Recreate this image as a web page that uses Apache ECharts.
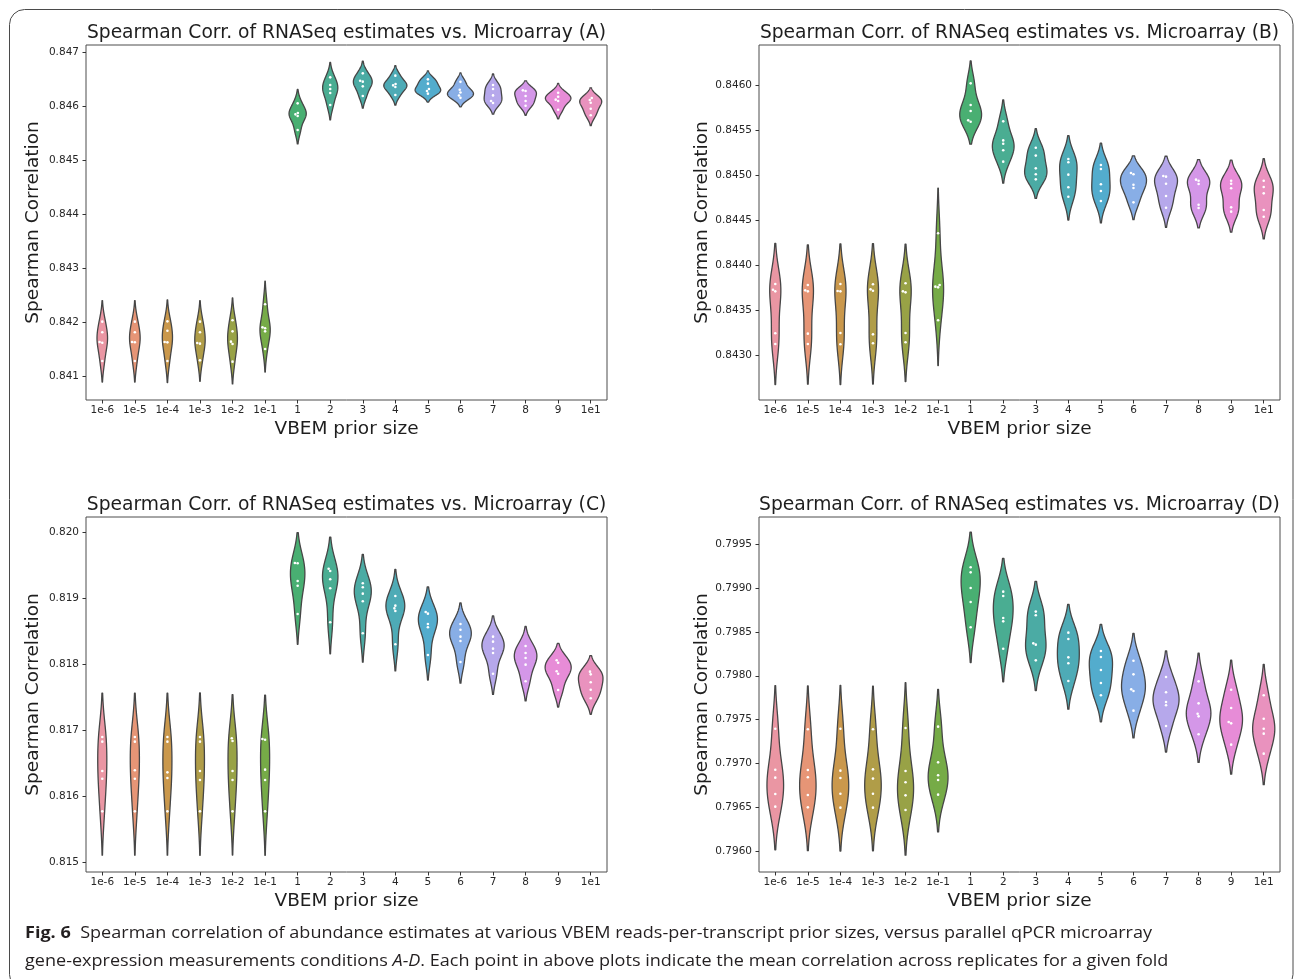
<!DOCTYPE html>
<html>
<head>
<meta charset="utf-8">
<script src="https://cdn.jsdelivr.net/npm/echarts@6/dist/echarts.min.js"></script>
<style>
  html, body { margin: 0; padding: 0; background: #ffffff; }
  #chart { width: 1295px; height: 979px; }
</style>
</head>
<body>
<div id="chart"></div>
<script>
// VBEM prior sizes on the x axis
const CATEGORIES = ['1e-6', '1e-5', '1e-4', '1e-3', '1e-2', '1e-1', '1', '2', '3', '4', '5', '6', '7', '8', '9', '1e1'];

// Spearman correlation per fold (five replicates per prior size), conditions A-D
const CORR_A = [
  [0.842018, 0.841821, 0.841642, 0.841629, 0.841290],
  [0.842018, 0.841821, 0.841642, 0.841636, 0.841290],
  [0.842024, 0.841851, 0.841642, 0.841635, 0.841290],
  [0.842018, 0.841821, 0.841623, 0.841611, 0.841302],
  [0.842043, 0.841839, 0.841648, 0.841605, 0.841278],
  [0.842339, 0.841913, 0.841895, 0.841839, 0.841512],
  [0.846059, 0.845880, 0.845855, 0.845824, 0.845565],
  [0.846540, 0.846398, 0.846324, 0.846250, 0.846028],
  [0.846614, 0.846478, 0.846460, 0.846373, 0.846194],
  [0.846571, 0.846416, 0.846392, 0.846361, 0.846213],
  [0.846503, 0.846423, 0.846324, 0.846287, 0.846238],
  [0.846457, 0.846309, 0.846259, 0.846204, 0.846160],
  [0.846398, 0.846324, 0.846206, 0.846101, 0.846064],
  [0.846299, 0.846287, 0.846194, 0.846102, 0.846015],
  [0.846256, 0.846182, 0.846127, 0.846102, 0.845941],
  [0.846157, 0.846120, 0.846071, 0.845960, 0.845837]
];
const CORR_B = [
  [0.843794, 0.843731, 0.843713, 0.843248, 0.843129],
  [0.843783, 0.843724, 0.843713, 0.843244, 0.843129],
  [0.843794, 0.843717, 0.843713, 0.843251, 0.843126],
  [0.843791, 0.843735, 0.843720, 0.843236, 0.843137],
  [0.843802, 0.843713, 0.843702, 0.843251, 0.843148],
  [0.844356, 0.843783, 0.843765, 0.843757, 0.843392],
  [0.846018, 0.845778, 0.845712, 0.845608, 0.845593],
  [0.845597, 0.845386, 0.845349, 0.845276, 0.845150],
  [0.845305, 0.845217, 0.845076, 0.845010, 0.844954],
  [0.845180, 0.845143, 0.845006, 0.844866, 0.844762],
  [0.845113, 0.845069, 0.844899, 0.844825, 0.844714],
  [0.845024, 0.845010, 0.844895, 0.844858, 0.844699],
  [0.844991, 0.844984, 0.844906, 0.844770, 0.844640],
  [0.844951, 0.844939, 0.844903, 0.844673, 0.844637],
  [0.844939, 0.844906, 0.844855, 0.844644, 0.844596],
  [0.844939, 0.844869, 0.844799, 0.844614, 0.844540]
];
const CORR_C = [
  [0.816898, 0.816827, 0.816382, 0.816265, 0.815769],
  [0.816898, 0.816827, 0.816392, 0.816265, 0.815769],
  [0.816898, 0.816827, 0.816361, 0.816275, 0.815769],
  [0.816898, 0.816827, 0.816382, 0.816245, 0.815769],
  [0.816878, 0.816837, 0.816382, 0.816245, 0.815769],
  [0.816867, 0.816857, 0.816402, 0.816245, 0.815769],
  [0.819540, 0.819535, 0.819266, 0.819195, 0.818765],
  [0.819453, 0.819418, 0.819292, 0.819155, 0.818639],
  [0.819231, 0.819170, 0.819074, 0.818958, 0.818472],
  [0.819039, 0.818892, 0.818851, 0.818811, 0.818305],
  [0.818796, 0.818770, 0.818613, 0.818563, 0.818143],
  [0.818613, 0.818527, 0.818421, 0.818355, 0.818036],
  [0.818421, 0.818345, 0.818239, 0.818173, 0.817859],
  [0.818279, 0.818173, 0.818097, 0.817996, 0.817743],
  [0.818062, 0.818026, 0.817895, 0.817859, 0.817611],
  [0.817890, 0.817849, 0.817728, 0.817616, 0.817485]
];
const CORR_D = [
  [0.797396, 0.796928, 0.796837, 0.796651, 0.796506],
  [0.797389, 0.796925, 0.796841, 0.796639, 0.796498],
  [0.797396, 0.796917, 0.796833, 0.796654, 0.796495],
  [0.797389, 0.796932, 0.796826, 0.796654, 0.796495],
  [0.797404, 0.796913, 0.796784, 0.796635, 0.796468],
  [0.797419, 0.797012, 0.796864, 0.796810, 0.796643],
  [0.799238, 0.799180, 0.799002, 0.798842, 0.798553],
  [0.798960, 0.798910, 0.798659, 0.798621, 0.798309],
  [0.798732, 0.798690, 0.798370, 0.798355, 0.798176],
  [0.798492, 0.798420, 0.798210, 0.798142, 0.797940],
  [0.798283, 0.798214, 0.798066, 0.797917, 0.797777],
  [0.798172, 0.798016, 0.797845, 0.797826, 0.797602],
  [0.797986, 0.797811, 0.797701, 0.797663, 0.797427],
  [0.797936, 0.797685, 0.797567, 0.797537, 0.797332],
  [0.797841, 0.797632, 0.797472, 0.797457, 0.797214],
  [0.797777, 0.797510, 0.797396, 0.797339, 0.797111]
];

// y tick positions for each panel
const TICKS_A = [0.841, 0.842, 0.843, 0.844, 0.845, 0.846, 0.847];
const TICKS_B = [0.8430, 0.8435, 0.8440, 0.8445, 0.8450, 0.8455, 0.8460];
const TICKS_C = [0.815, 0.816, 0.817, 0.818, 0.819, 0.820];
const TICKS_D = [0.7960, 0.7965, 0.7970, 0.7975, 0.7980, 0.7985, 0.7990, 0.7995];

const TITLE_PREFIX = 'Spearman Corr. of RNASeq estimates vs. Microarray';
const X_NAME = 'VBEM prior size';
const Y_NAME = 'Spearman Correlation';
const CAPTION_1_BOLD = 'Fig. 6';
const CAPTION_1 = '  Spearman correlation of abundance estimates at various VBEM reads-per-transcript prior sizes, versus parallel qPCR microarray';
const CAPTION_2_A = 'gene-expression measurements conditions ';
const CAPTION_2_I = 'A-D';
const CAPTION_2_B = '. Each point in above plots indicate the mean correlation across replicates for a given fold';

const FONT = '"DejaVu Sans", "Liberation Sans", sans-serif';
const TEXT_COLOR = '#1e1e1e';

// ---- HUSL colour space (seaborn-style palette) ----
const HM = [
  [3.240969941904521, -1.537383177570093, -0.498610760293],
  [-0.96924363628087, 1.87596750150772, 0.041555057407175],
  [0.055630079696993, -0.20397695888897, 1.056971514242878]
];
const REF_U = 0.19783000664283, REF_V = 0.46831999493879;
const KAPPA = 903.2962962, EPSILON = 0.0088564516;

function lightnessBounds(L) {
  const out = [];
  const sub1 = Math.pow(L + 16, 3) / 1560896;
  const sub2 = sub1 > EPSILON ? sub1 : L / KAPPA;
  for (const [m1, m2, m3] of HM) {
    for (const t of [0, 1]) {
      const top1 = (284517 * m1 - 94839 * m3) * sub2;
      const top2 = (838422 * m3 + 769860 * m2 + 731718 * m1) * L * sub2 - 769860 * t * L;
      const bottom = (632260 * m3 - 126452 * m2) * sub2 + 126452 * t;
      out.push([top1 / bottom, top2 / bottom]);
    }
  }
  return out;
}
function maxChroma(L, H) {
  const hr = H / 360 * Math.PI * 2;
  let best = Infinity;
  for (const [slope, icpt] of lightnessBounds(L)) {
    const len = icpt / (Math.sin(hr) - slope * Math.cos(hr));
    if (len >= 0) best = Math.min(best, len);
  }
  return best;
}
function huslToRgb(H, S, L) {
  const C = maxChroma(L, H) / 100 * S;
  const hr = H / 360 * Math.PI * 2;
  const U = C * Math.cos(hr), V = C * Math.sin(hr);
  const Y = L <= 8 ? L / KAPPA : Math.pow((L + 16) / 116, 3);
  const vu = U / (13 * L) + REF_U, vv = V / (13 * L) + REF_V;
  const X = -(9 * Y * vu) / ((vu - 4) * vv - vu * vv);
  const Z = (9 * Y - 15 * vv * Y - vv * X) / (3 * vv);
  return HM.map(r => {
    const c = r[0] * X + r[1] * Y + r[2] * Z;
    const v = c <= 0.0031308 ? 12.92 * c : 1.055 * Math.pow(c, 1 / 2.4) - 0.055;
    return Math.min(1, Math.max(0, v));
  });
}
function rgbToHls(r, g, b) {
  const mx = Math.max(r, g, b), mn = Math.min(r, g, b);
  const l = (mx + mn) / 2;
  if (mx === mn) return [0, l, 0];
  const d = mx - mn;
  const s = l <= 0.5 ? d / (mx + mn) : d / (2 - mx - mn);
  let h;
  if (mx === r) h = (g - b) / d;
  else if (mx === g) h = 2 + (b - r) / d;
  else h = 4 + (r - g) / d;
  h = ((h / 6) % 1 + 1) % 1;
  return [h, l, s];
}
function hlsToRgb(h, l, s) {
  if (s === 0) return [l, l, l];
  const m2 = l <= 0.5 ? l * (1 + s) : l + s - l * s;
  const m1 = 2 * l - m2;
  const f = hh => {
    hh = ((hh % 1) + 1) % 1;
    if (hh < 1 / 6) return m1 + (m2 - m1) * hh * 6;
    if (hh < 0.5) return m2;
    if (hh < 2 / 3) return m1 + (m2 - m1) * (2 / 3 - hh) * 6;
    return m1;
  };
  return [f(h + 1 / 3), f(h), f(h - 1 / 3)];
}
function toHex(rgb) {
  return '#' + rgb.map(v => Math.round(v * 255).toString(16).padStart(2, '0')).join('');
}

// husl palette, desaturated to 75 %
const baseRgb = CATEGORIES.map((c, i) => {
  const hue = ((i / CATEGORIES.length + 0.01) % 1) * 359;
  return huslToRgb(hue, 0.9 * 99, 0.7 * 99);
});
const desatRgb = baseRgb.map(([r, g, b]) => {
  const [h, l, s] = rgbToHls(r, g, b);
  return hlsToRgb(h, l, s * 0.75);
});
const FILL_COLORS = desatRgb.map(toHex);
const lum = Math.min(...desatRgb.map(([r, g, b]) => rgbToHls(r, g, b)[1])) * 0.6;
const EDGE_COLOR = toHex([lum, lum, lum]);

// ---- Gaussian KDE (Scott bandwidth, cut = 2) ----
function violinShape(values, gridsize, cut) {
  const n = values.length;
  const mean = values.reduce((a, b) => a + b, 0) / n;
  const sd = Math.sqrt(values.reduce((a, v) => a + (v - mean) * (v - mean), 0) / (n - 1));
  const bw = sd * Math.pow(n, -0.2);
  const lo = Math.min(...values) - cut * bw;
  const hi = Math.max(...values) + cut * bw;
  const support = [], density = [];
  const norm = 1 / (n * bw * Math.sqrt(2 * Math.PI));
  for (let k = 0; k < gridsize; k++) {
    const y = lo + (hi - lo) * k / (gridsize - 1);
    let d = 0;
    for (const v of values) { const z = (y - v) / bw; d += Math.exp(-0.5 * z * z); }
    support.push(y);
    density.push(d * norm);
  }
  return { values, support, density };
}

// beeswarm offsets in pixels for the replicate dots
function swarmOffsets(ys, dist) {
  const order = ys.map((y, i) => i).sort((a, b) => ys[b] - ys[a]);
  const placed = [];
  const offs = new Array(ys.length).fill(0);
  for (const idx of order) {
    const y = ys[idx];
    const cands = [0];
    for (const p of placed) {
      const dy = Math.abs(p.y - y);
      if (dy < dist) {
        const dx = Math.sqrt(dist * dist - dy * dy);
        cands.push(p.x - dx, p.x + dx);
      }
    }
    cands.sort((a, b) => Math.abs(a) - Math.abs(b));
    const ok = cands.find(x => placed.every(p => (p.x - x) ** 2 + (p.y - y) ** 2 >= dist * dist - 1e-6));
    const x = ok === undefined ? 0 : ok;
    placed.push({ x, y });
    offs[idx] = x;
  }
  return offs;
}

const VIOLIN_HALF_WIDTH = 0.4;   // in category units
const DOT_RADIUS = 1.3;
const DOT_SPACING = 2.8;

const panels = [
  { label: 'A', data: CORR_A, ticks: TICKS_A, digits: 3, range: [0.840568, 0.8471386], grid: { left: 86, top: 45, width: 521, height: 355 } },
  { label: 'B', data: CORR_B, ticks: TICKS_B, digits: 4, range: [0.8425087, 0.846443], grid: { left: 759, top: 45, width: 521, height: 355 } },
  { label: 'C', data: CORR_C, ticks: TICKS_C, digits: 3, range: [0.8148482, 0.8202376], grid: { left: 86, top: 517, width: 521, height: 355 } },
  { label: 'D', data: CORR_D, ticks: TICKS_D, digits: 4, range: [0.7957603, 0.7998119], grid: { left: 759, top: 517, width: 521, height: 355 } }
];

panels.forEach(p => {
  p.shapes = p.data.map(vals => violinShape(vals, 100, 2));
  const maxD = Math.max(...p.shapes.map(s => Math.max(...s.density)));
  p.shapes.forEach(s => { s.width = s.density.map(d => d / maxD * VIOLIN_HALF_WIDTH); });
});

function makeRenderer(shapes) {
  return function (params, api) {
    const i = api.value(0);
    const sh = shapes[i];
    const band = api.size([1, 0])[0];
    const cx = api.coord([i, sh.support[0]])[0];
    const right = [], left = [];
    for (let k = 0; k < sh.support.length; k++) {
      const py = api.coord([i, sh.support[k]])[1];
      const hw = sh.width[k] * band;
      right.push([cx + hw, py]);
      left.push([cx - hw, py]);
    }
    const children = [{
      type: 'polygon',
      shape: { points: right.concat(left.reverse()) },
      style: { fill: FILL_COLORS[i], stroke: EDGE_COLOR, lineWidth: 1.3, lineJoin: 'round' }
    }];
    const ys = sh.values.map(v => api.coord([i, v])[1]);
    const offs = swarmOffsets(ys, DOT_SPACING);
    ys.forEach((y, k) => children.push({
      type: 'circle',
      shape: { cx: cx + offs[k], cy: y, r: DOT_RADIUS },
      style: { fill: '#ffffff' }
    }));
    return { type: 'group', children };
  };
}

function median(arr) {
  const s = arr.slice().sort((a, b) => a - b);
  return s[Math.floor(s.length / 2)];
}

// caption width fitting
const measureCtx = document.createElement('canvas').getContext('2d');
function textWidth(font, s) { measureCtx.font = font; return measureCtx.measureText(s).width; }
const CAP_FONT_FAMILY = '"Open Sans", "Noto Sans", sans-serif';
const CAP_SIZE = 16.5;
const CAP_LINE1_WIDTH = 1127;
const capRaw = textWidth('bold ' + CAP_SIZE + 'px ' + CAP_FONT_FAMILY, CAPTION_1_BOLD) +
               textWidth(CAP_SIZE + 'px ' + CAP_FONT_FAMILY, CAPTION_1);
const CAP_SCALE = CAP_LINE1_WIDTH / capRaw;

const chart = echarts.init(document.getElementById('chart'), null, { renderer: 'canvas' });

const graphics = [
  {
    type: 'rect', silent: true,
    shape: { x: 9.5, y: 9.5, width: 1283.5, height: 980, r: 15 },
    style: { fill: null, stroke: '#4a4a4a', lineWidth: 1 }
  }
];
panels.forEach(p => {
  graphics.push({
    type: 'text', silent: true,
    x: p.grid.left + p.grid.width / 2,
    y: p.grid.top - 12,
    style: {
      text: TITLE_PREFIX + ' (' + p.label + ')',
      font: '18.7px ' + FONT, fill: TEXT_COLOR,
      align: 'center', verticalAlign: 'middle'
    }
  });
});
graphics.push({
  type: 'text', silent: true, x: 25, y: 933, scaleX: CAP_SCALE,
  style: {
    text: '{b|' + CAPTION_1_BOLD + '}' + CAPTION_1,
    font: CAP_SIZE + 'px ' + CAP_FONT_FAMILY, fill: '#231f20',
    verticalAlign: 'middle',
    rich: { b: { fontWeight: 'bold', fontSize: CAP_SIZE, fontFamily: CAP_FONT_FAMILY, fill: '#231f20' } }
  }
});
graphics.push({
  type: 'text', silent: true, x: 25, y: 961, scaleX: CAP_SCALE,
  style: {
    text: CAPTION_2_A + '{i|' + CAPTION_2_I + '}' + CAPTION_2_B,
    font: CAP_SIZE + 'px ' + CAP_FONT_FAMILY, fill: '#231f20',
    verticalAlign: 'middle',
    rich: { i: { fontStyle: 'italic', fontSize: CAP_SIZE, fontFamily: CAP_FONT_FAMILY, fill: '#231f20' } }
  }
});

const option = {
  backgroundColor: '#ffffff',
  animation: false,
  grid: panels.map(p => Object.assign({ show: true, borderColor: '#4d4d4d', borderWidth: 1, backgroundColor: 'transparent' }, p.grid)),
  xAxis: panels.map((p, k) => ({
    type: 'category',
    gridIndex: k,
    data: CATEGORIES,
    boundaryGap: true,
    axisLine: { show: false },
    axisTick: { show: true, alignWithLabel: true, length: 3.5, lineStyle: { color: '#333', width: 1 } },
    axisLabel: { interval: 0, margin: 5, fontFamily: FONT, fontSize: 10.5, color: '#262626' },
    splitLine: { show: false },
    name: X_NAME,
    nameLocation: 'middle',
    nameGap: 20,
    nameTextStyle: { fontFamily: FONT, fontSize: 18.5, color: TEXT_COLOR }
  })),
  yAxis: panels.map((p, k) => ({
    type: 'value',
    gridIndex: k,
    min: p.range[0],
    max: p.range[1],
    axisLine: { show: false },
    axisTick: { show: true, length: 3.5, customValues: p.ticks, lineStyle: { color: '#333', width: 1 } },
    axisLabel: {
      margin: 7, fontFamily: FONT, fontSize: 10.5, color: '#262626',
      customValues: p.ticks,
      formatter: v => Number(v).toFixed(p.digits)
    },
    splitLine: { show: false },
    name: Y_NAME,
    nameLocation: 'middle',
    nameRotate: 90,
    nameGap: 43,
    nameTextStyle: { fontFamily: FONT, fontSize: 18.5, color: TEXT_COLOR }
  })),
  series: panels.map((p, k) => ({
    type: 'custom',
    name: 'Condition ' + p.label,
    coordinateSystem: 'cartesian2d',
    xAxisIndex: k,
    yAxisIndex: k,
    silent: true,
    clip: false,
    data: CATEGORIES.map((c, i) => [i, median(p.data[i])]),
    encode: { x: 0, y: 1 },
    renderItem: makeRenderer(p.shapes)
  })),
  graphic: graphics
};

chart.setOption(option);
</script>
</body>
</html>
